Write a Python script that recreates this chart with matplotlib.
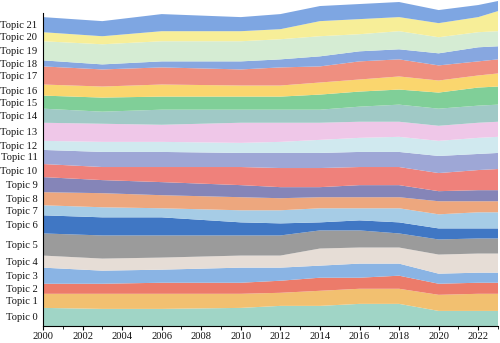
import matplotlib
matplotlib.use("Agg")
import matplotlib.pyplot as plt
import numpy as np
from matplotlib.ticker import MultipleLocator

years = [2000, 2003, 2006, 2010, 2012, 2014, 2016, 2018, 2020, 2022, 2023]

topic_0  = [18, 17, 17, 18, 20, 20, 22, 22, 15, 15, 15]
topic_1  = [14, 15, 15, 14, 13, 15, 15, 15, 16, 17, 17]
topic_2  = [10, 10, 11, 11, 12, 13, 11, 13, 11, 11, 11]
topic_3  = [16, 13, 13, 15, 13, 12, 14, 12, 10, 10, 10]
topic_4  = [12, 12, 12, 12, 12, 17, 16, 16, 19, 19, 19]
topic_5  = [22, 23, 22, 20, 20, 18, 17, 14, 15, 15, 15]
topic_6  = [18, 18, 18, 13, 12, 8, 10, 11, 11, 10, 10]
topic_7  = [10, 10, 9, 12, 13, 14, 12, 14, 14, 16, 16]
topic_8  = [13, 14, 13, 13, 12, 11, 11, 11, 13, 11, 11]
topic_9  = [15, 13, 13, 12, 11, 10, 12, 12, 10, 11, 11]
topic_10 = [13, 13, 15, 18, 19, 19, 18, 18, 18, 20, 21]
topic_11 = [14, 15, 15, 14, 15, 15, 15, 15, 17, 16, 16]
topic_12 = [9, 10, 10, 10, 11, 13, 14, 15, 15, 16, 16]
topic_13 = [18, 18, 17, 20, 19, 17, 16, 15, 15, 15, 15]
topic_14 = [14, 12, 15, 13, 13, 13, 15, 17, 17, 17, 17]
topic_15 = [13, 14, 13, 13, 13, 15, 15, 15, 16, 18, 18]
topic_16 = [11, 11, 12, 11, 11, 12, 12, 13, 12, 12, 13]
topic_17 = [18, 17, 17, 16, 18, 16, 18, 17, 15, 14, 14]
topic_18 = [6, 5, 6, 8, 8, 10, 10, 10, 12, 14, 13]
topic_19 = [19, 20, 20, 20, 20, 20, 17, 18, 16, 15, 15]
topic_20 = [9, 8, 10, 10, 10, 15, 15, 14, 14, 15, 20]
topic_21 = [15, 15, 17, 14, 15, 15, 15, 15, 13, 12, 10]

series = [topic_0, topic_1, topic_2, topic_3, topic_4, topic_5, topic_6, topic_7,
          topic_8, topic_9, topic_10, topic_11, topic_12, topic_13, topic_14,
          topic_15, topic_16, topic_17, topic_18, topic_19, topic_20, topic_21]
labels = [f"Topic {i}" for i in range(22)]

colors = ["#a0d5c6", "#f2c070", "#ec7b6a", "#8ab4e4", "#e6ddd6", "#9b9b9b",
          "#4077c4", "#a6cce6", "#eda77e", "#8585b8", "#ef817b", "#9ea7d6",
          "#d0e9ef", "#efc7e8", "#a0c9c6", "#80cf98", "#fad66e", "#ef8f80",
          "#87a7e0", "#d5ecd3", "#f7ee98", "#7ea6e2"]

fig = plt.figure(figsize=(5.0, 3.43), dpi=100)
ax = fig.add_axes([43/500, 17/343, 455/500, 326/343])

ax.stackplot(years, *series, colors=colors, linewidth=0)

ax.set_xlim(2000, 2023)
ax.set_ylim(0, 324)

# labels at band centers at the first year
firsts = np.array([s[0] for s in series], dtype=float)
cum = np.cumsum(firsts)
centers = cum - firsts / 2
ax.set_yticks(centers)
ax.set_yticklabels(labels, family="Liberation Serif", fontsize=7.6,
                   color="#111111")
ax.tick_params(axis="y", length=0, pad=4)

ax.xaxis.set_major_locator(MultipleLocator(2))
ax.xaxis.set_minor_locator(MultipleLocator(1))
ax.tick_params(axis="x", which="major", length=3, direction="out", pad=1.5)
ax.tick_params(axis="x", which="minor", length=2, direction="out")
for lab in ax.get_xticklabels():
    lab.set_family("Liberation Serif")
    lab.set_fontsize(7.6)
    lab.set_color("#111111")

ax.spines["top"].set_visible(False)
ax.spines["right"].set_visible(False)
ax.spines["left"].set_bounds(0, 311)
ax.spines["left"].set_linewidth(0.8)
ax.spines["bottom"].set_linewidth(0.8)

fig.savefig("out.png", dpi=100)
